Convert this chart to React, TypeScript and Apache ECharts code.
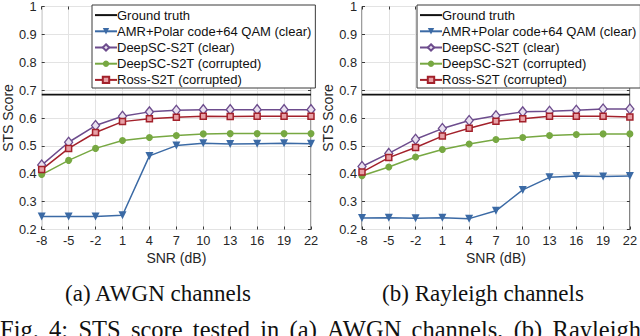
import React, { useEffect, useRef } from "react";
import * as echarts from "echarts";

const snr = ["-8", "-5", "-2", "1", "4", "7", "10", "13", "16", "19", "22"];
const seriesNames = [
  "Ground truth",
  "AMR+Polar code+64 QAM (clear)",
  "DeepSC-S2T (clear)",
  "DeepSC-S2T (corrupted)",
  "Ross-S2T (corrupted)",
];
const groundTruth = 0.684;

const awgnAmr = [0.247, 0.247, 0.247, 0.251, 0.464, 0.501, 0.509, 0.507, 0.508, 0.509, 0.508];
const awgnDeepClear = [0.431, 0.513, 0.573, 0.606, 0.622, 0.628, 0.63, 0.63, 0.63, 0.63, 0.63];
const awgnDeepCorr = [0.397, 0.448, 0.491, 0.519, 0.53, 0.537, 0.543, 0.544, 0.544, 0.544, 0.544];
const awgnRoss = [0.415, 0.491, 0.548, 0.587, 0.597, 0.603, 0.606, 0.605, 0.606, 0.606, 0.606];

const rayAmr = [0.241, 0.242, 0.24, 0.242, 0.239, 0.267, 0.342, 0.387, 0.392, 0.39, 0.392];
const rayDeepClear = [0.426, 0.473, 0.524, 0.562, 0.591, 0.608, 0.622, 0.624, 0.628, 0.632, 0.632];
const rayDeepCorr = [0.393, 0.424, 0.46, 0.487, 0.507, 0.523, 0.53, 0.537, 0.541, 0.543, 0.543];
const rayRoss = [0.406, 0.458, 0.494, 0.535, 0.563, 0.588, 0.597, 0.606, 0.606, 0.606, 0.604];

const captionA = "(a) AWGN channels";
const captionB = "(b) Rayleigh channels";
const figCaption = "Fig. 4: STS score tested in (a) AWGN channels, (b) Rayleigh";

const colors = {
  truth: "#111111",
  amr: "#3b6aa5",
  deepClear: "#6d4c8d",
  deepCorr: "#77a842",
  ross: "#a3212b",
};

const FONT = "'Liberation Sans', Arial, Helvetica, sans-serif";
const SERIF = "'Liberation Serif', 'Times New Roman', serif";

function buildSeries(gi: number, amr: number[], dc: number[], dcc: number[], ross: number[]) {
  const base = { type: "line", xAxisIndex: gi, yAxisIndex: gi, z: 3 };
  return [
    {
      ...base,
      name: seriesNames[0],
      data: snr.map(() => groundTruth),
      symbol: "none",
      lineStyle: { color: colors.truth, width: 1.8 },
      itemStyle: { color: colors.truth },
    },
    {
      ...base,
      name: seriesNames[1],
      data: amr,
      symbol: "triangle",
      symbolRotate: 180,
      symbolSize: 8,
      lineStyle: { color: colors.amr, width: 1.5 },
      itemStyle: { color: colors.amr },
    },
    {
      ...base,
      name: seriesNames[2],
      data: dc,
      symbol: "diamond",
      symbolSize: [8, 10],
      lineStyle: { color: colors.deepClear, width: 1.5 },
      itemStyle: { color: "#e8e0ef", borderColor: colors.deepClear, borderWidth: 1.3 },
    },
    {
      ...base,
      name: seriesNames[3],
      data: dcc,
      symbol: "circle",
      symbolSize: 7,
      lineStyle: { color: colors.deepCorr, width: 1.5 },
      itemStyle: { color: colors.deepCorr },
    },
    {
      ...base,
      name: seriesNames[4],
      data: ross,
      symbol: "rect",
      symbolSize: 6,
      lineStyle: { color: colors.ross, width: 1.5 },
      itemStyle: { color: "#e7a0a6", borderColor: colors.ross, borderWidth: 1.5 },
    },
  ];
}

function justifiedWords(text: string, font: string, x0: number, x1: number, y: number) {
  const words = text.split(" ");
  const ctx = document.createElement("canvas").getContext("2d");
  let widths = words.map((w) => w.length * 11);
  if (ctx) {
    ctx.font = font;
    widths = words.map((w) => ctx.measureText(w).width);
  }
  const total = widths.reduce((a, b) => a + b, 0);
  const gap = (x1 - x0 - total) / (words.length - 1);
  let x = x0;
  return words.map((w, i) => {
    const el = {
      type: "text",
      x,
      y,
      style: { text: w, font, fill: "#111", align: "left", verticalAlign: "middle" },
    };
    x += widths[i] + gap;
    return el;
  });
}

export default function App() {
  const ref = useRef<HTMLDivElement>(null);
  useEffect(() => {
    if (!ref.current) return;
    const chart = echarts.init(ref.current, null, { renderer: "svg" });
    const grids = [
      { left: 39, top: 5, width: 272, height: 224.5 },
      { left: 362, top: 5, width: 272, height: 224.5 },
    ];
    const axisColor = "#3a3a3a";
    const gridLine = { show: true, lineStyle: { color: "#e3e3e3", width: 1 } };
    const tickLabel = { fontFamily: FONT, fontSize: 12.8, color: "#262626" };
    const xAxes: any[] = [];
    const yAxes: any[] = [];
    [0, 1].forEach((gi) => {
      xAxes.push({
        type: "category",
        gridIndex: gi,
        data: snr,
        boundaryGap: false,
        position: "bottom",
        axisLine: { show: false },
        axisTick: { show: true, inside: true, length: 3, lineStyle: { color: axisColor } },
        axisLabel: { ...tickLabel, margin: 4, interval: 0 },
        splitLine: gridLine,
        name: "SNR (dB)",
        nameLocation: "middle",
        nameGap: 20,
        nameTextStyle: { fontFamily: FONT, fontSize: 14, color: "#262626", verticalAlign: "top" },
      });
      yAxes.push({
        type: "value",
        gridIndex: gi,
        min: 0.2,
        max: 1,
        interval: 0.1,
        position: "left",
        axisLine: { show: false },
        axisTick: { show: true, inside: true, length: 3, lineStyle: { color: axisColor } },
        axisLabel: {
          ...tickLabel,
          margin: 5,
          formatter: (v: number) => String(Math.round(v * 10) / 10),
        },
        splitLine: gridLine,
        name: "STS Score",
        nameLocation: "middle",
        nameGap: 25,
        nameRotate: 90,
        nameTextStyle: { fontFamily: FONT, fontSize: 14, color: "#262626" },
      });
    });
    [0, 1].forEach((gi) => {
      xAxes.push({
        type: "category",
        gridIndex: gi,
        data: snr,
        boundaryGap: false,
        position: "top",
        axisLine: { show: false },
        axisTick: { show: true, inside: true, length: 3, lineStyle: { color: axisColor } },
        axisLabel: { show: false },
        splitLine: { show: false },
      });
      yAxes.push({
        type: "value",
        gridIndex: gi,
        min: 0.2,
        max: 1,
        interval: 0.1,
        position: "right",
        axisLine: { show: false },
        axisTick: { show: true, inside: true, length: 3, lineStyle: { color: axisColor } },
        axisLabel: { show: false },
        splitLine: { show: false },
      });
    });

    const legendData = seriesNames.map((n, i) =>
      i === 0 ? { name: n, itemStyle: { opacity: 0 } } : { name: n }
    );
    const legendBase = {
      orient: "vertical",
      top: 5,
      data: legendData,
      itemWidth: 22,
      itemHeight: 8,
      itemGap: 2,
      padding: [3, 4, 1, 2],
      backgroundColor: "#ffffff",
      borderColor: "#3a3a3a",
      borderWidth: 1,
      borderRadius: 0,
      textStyle: { fontFamily: FONT, fontSize: 13, color: "#111", lineHeight: 14.2, padding: [0, 0, 0, -5] },
      selectedMode: false,
      z: 10,
    };

    chart.setOption({
      animation: false,
      backgroundColor: "#ffffff",
      grid: grids.map((g) => ({ ...g, show: true, borderColor: axisColor, borderWidth: 1, backgroundColor: "transparent" })),
      xAxis: xAxes,
      yAxis: yAxes,
      legend: [
        { ...legendBase, left: 92 },
        { ...legendBase, left: 417 },
      ],
      series: [
        ...buildSeries(0, awgnAmr, awgnDeepClear, awgnDeepCorr, awgnRoss),
        ...buildSeries(1, rayAmr, rayDeepClear, rayDeepCorr, rayRoss),
      ],
      graphic: [
        {
          type: "text",
          x: 158,
          y: 293,
          style: { text: captionA, font: `23px ${SERIF}`, fill: "#111", align: "center", verticalAlign: "middle" },
        },
        {
          type: "text",
          x: 483,
          y: 293,
          style: { text: captionB, font: `23px ${SERIF}`, fill: "#111", align: "center", verticalAlign: "middle" },
        },
        ...justifiedWords(figCaption, `24.5px ${SERIF}`, 0, 641, 329),
      ],
    });
    return () => chart.dispose();
  }, []);
  return (
    <div
      ref={ref}
      style={{ position: "absolute", left: 0, top: 0, width: 640, height: 336, background: "#fff" }}
    />
  );
}
